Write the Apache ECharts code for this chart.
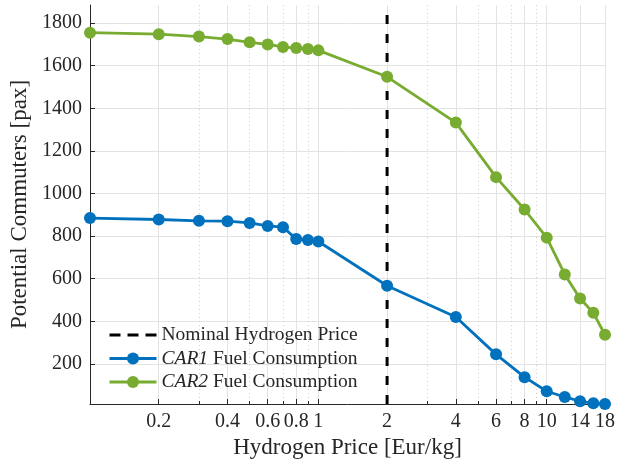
<!DOCTYPE html>
<html>
<head>
<meta charset="utf-8">
<script src="https://cdn.jsdelivr.net/npm/echarts@6/dist/echarts.min.js"></script>
<style>
html, body { margin: 0; padding: 0; background: #fff; }
#chart { width: 625px; height: 465px; }
</style>
</head>
<body>
<div id="chart"></div>
<script>
// hydrogen price points (Eur/kg)
var prices = [0.1, 0.2, 0.3, 0.4, 0.5, 0.6, 0.7, 0.8, 0.9, 1, 2, 4, 6, 8, 10, 12, 14, 16, 18]
var car1 = [885, 878, 872, 870, 862, 848, 842, 787, 782, 775, 567, 420, 245, 138, 72, 45, 25, 15, 12]
var car2 = [1755, 1748, 1737, 1725, 1710, 1700, 1688, 1683, 1678, 1672, 1548, 1333, 1077, 925, 793, 620, 507, 440, 337]
var nominalPrice = 2

var xTicks = [0.2, 0.4, 0.6, 0.8, 1, 2, 4, 6, 8, 10, 14, 18]
var xMinorTicks = [0.3, 0.5, 0.7, 0.9, 3, 5, 7, 9]
var yTicks = [200, 400, 600, 800, 1000, 1200, 1400, 1600, 1800]
var xMin = 0.1, xMax = 18
var yMin = 12, yMax = 1885

var font = 'Liberation Serif'
var textColor = '#262626'

function pairs(xs, ys) {
  return xs.map(function (x, i) { return [x, ys[i]] })
}

var chart = echarts.init(document.getElementById('chart'))
chart.setOption({
  backgroundColor: '#FFFFFF',
  animation: false,
  grid: {
    left: 90,
    right: 20,
    top: 5,
    bottom: 61,
    containLabel: false,
    outerBoundsMode: 'none'
  },
  legend: {
    orient: 'vertical',
    left: 108,
    top: 325,
    padding: 0,
    itemWidth: 47,
    itemHeight: 15,
    itemGap: 3.5,
    lineStyle: { width: 3 },
    data: [
      // dashed line only, no marker
      {
        name: 'Nominal Hydrogen Price',
        itemStyle: { color: 'rgba(0,0,0,0)', borderWidth: 0 },
        lineStyle: { type: [11, 7], width: 3 }
      },
      'CAR1 Fuel Consumption',
      'CAR2 Fuel Consumption'
    ],
    formatter: function (name) {
      return name.replace(/^(CAR\d)/, '{i|$1}')
    },
    textStyle: {
      fontFamily: font,
      fontSize: 19.5,
      color: textColor,
      rich: {
        i: { fontFamily: font, fontSize: 19.5, fontStyle: 'italic', color: textColor }
      }
    }
  },
  xAxis: [{
    type: 'log',
    logBase: 10,
    min: xMin,
    max: xMax,
    name: 'Hydrogen Price [Eur/kg]',
    nameLocation: 'middle',
    nameGap: 30,
    nameTextStyle: { fontFamily: font, fontSize: 23, color: textColor },
    axisLine: { lineStyle: { color: textColor, width: 1 } },
    axisTick: { inside: true, length: 5, customValues: xTicks, lineStyle: { color: textColor } },
    axisLabel: { customValues: xTicks, margin: 8, fontFamily: font, fontSize: 20, color: textColor },
    splitLine: { show: true, lineStyle: { color: '#e3e3e3', width: 1 } }
  }, {
    type: 'log',
    logBase: 10,
    min: xMin,
    max: xMax,
    position: 'bottom',
    axisLine: { show: false },
    axisTick: { inside: true, length: 3, customValues: xMinorTicks, lineStyle: { color: textColor } },
    axisLabel: { show: false },
    splitLine: { show: true, lineStyle: { color: '#cfcfcf', width: 1, type: [1, 3] } }
  }],
  yAxis: {
    type: 'value',
    min: yMin,
    max: yMax,
    name: 'Potential Commuters [pax]',
    nameLocation: 'middle',
    nameGap: 47,
    nameTextStyle: { fontFamily: font, fontSize: 23, color: textColor },
    axisLine: { show: true, lineStyle: { color: textColor, width: 1 } },
    axisTick: { show: true, inside: true, length: 5, customValues: yTicks, lineStyle: { color: textColor } },
    axisLabel: {
      customValues: yTicks,
      margin: 8,
      fontFamily: font,
      fontSize: 20,
      color: textColor,
      formatter: function (v) { return String(v) }
    },
    splitLine: { show: true, lineStyle: { color: '#e3e3e3', width: 1 } }
  },
  series: [{
    name: 'CAR1 Fuel Consumption',
    type: 'line',
    clip: false,
    symbol: 'circle',
    symbolSize: 12,
    lineStyle: { width: 2.8, color: '#0072BD' },
    itemStyle: { color: '#0072BD' },
    data: pairs(prices, car1)
  }, {
    name: 'CAR2 Fuel Consumption',
    type: 'line',
    clip: false,
    symbol: 'circle',
    symbolSize: 12,
    lineStyle: { width: 2.8, color: '#77AC30' },
    itemStyle: { color: '#77AC30' },
    data: pairs(prices, car2)
  }, {
    name: 'Nominal Hydrogen Price',
    type: 'line',
    symbol: 'none',
    lineStyle: { width: 3, color: '#000000', type: [9, 10] },
    itemStyle: { color: '#000000' },
    data: [[nominalPrice, yMin], [nominalPrice, yMax]]
  }]
})
</script>
</body>
</html>
